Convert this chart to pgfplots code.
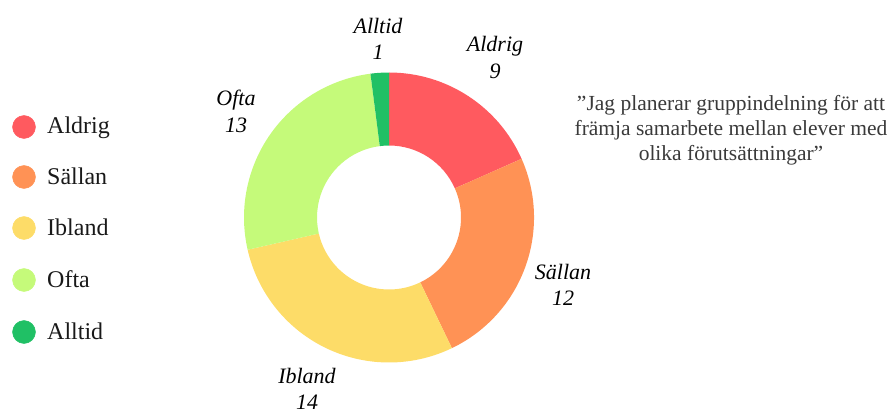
\documentclass[border=0pt]{standalone}
\usepackage{fontspec}
\setmainfont{Liberation Serif}
\usepackage{pgfplots}
\pgfplotsset{compat=1.18}
\usetikzlibrary{calc}
\definecolor{cAldrig}{HTML}{FF5A5F}
\definecolor{cSallan}{HTML}{FF9255}
\definecolor{cIbland}{HTML}{FDDC68}
\definecolor{cOfta}{HTML}{C5FA7A}
\definecolor{cAlltid}{HTML}{20C065}
\definecolor{titlegray}{HTML}{3A3A3A}

% answer counts
\def\nAldrig{9}\def\nSallan{12}\def\nIbland{14}\def\nOfta{13}\def\nAlltid{1}
\pgfmathsetmacro\total{\nAldrig+\nSallan+\nIbland+\nOfta+\nAlltid}
\pgfmathsetmacro\aA{90}
\pgfmathsetmacro\aB{\aA-360*\nAldrig/\total}
\pgfmathsetmacro\aC{\aB-360*\nSallan/\total}
\pgfmathsetmacro\aD{\aC-360*\nIbland/\total}
\pgfmathsetmacro\aE{\aD-360*\nOfta/\total}
\pgfmathsetmacro\aF{\aE-360*\nAlltid/\total}
\def\Rout{145}\def\Rin{72}

% ring segment: start angle, end angle, colour
\newcommand\slice[3]{%
  \fill[#3] ($(O)+(#1:\Rout pt)$) arc[start angle=#1,end angle=#2,radius=\Rout pt]
    -- ($(O)+(#2:\Rin pt)$) arc[start angle=#2,end angle=#1,radius=\Rin pt] -- cycle;}

\begin{document}
\begin{tikzpicture}
\begin{axis}[
  width=889pt, height=413pt, scale only axis,
  xmin=0, xmax=889, ymin=0, ymax=413,
  hide axis, clip=false,
]
\path (axis cs:0,0) rectangle (axis cs:889,413);
\coordinate (O) at (axis cs:389,195.5);
\slice{\aA}{\aB}{cAldrig}
\slice{\aB}{\aC}{cSallan}
\slice{\aC}{\aD}{cIbland}
\slice{\aD}{\aE}{cOfta}
\slice{\aE}{\aF}{cAlltid}

% legend markers
\addplot[only marks, mark=*, mark size=11.5pt, color=cAldrig] coordinates {(24,286)};
\addplot[only marks, mark=*, mark size=11.5pt, color=cSallan] coordinates {(24,236)};
\addplot[only marks, mark=*, mark size=11.5pt, color=cIbland] coordinates {(24,185)};
\addplot[only marks, mark=*, mark size=11.5pt, color=cOfta] coordinates {(24,133)};
\addplot[only marks, mark=*, mark size=11.5pt, color=cAlltid] coordinates {(24,81)};

\begin{scope}[every node/.style={anchor=base west, font=\fontsize{24}{28}\selectfont, text=black!90, inner sep=0pt}]
\node at (axis cs:47,279) {Aldrig};
\node at (axis cs:47,229) {Sällan};
\node at (axis cs:47,178) {Ibland};
\node at (axis cs:47,126) {Ofta};
\node at (axis cs:47,74) {Alltid};
\end{scope}

% slice labels
\begin{scope}[every node/.style={align=center, font=\fontsize{22}{26.5}\selectfont\itshape, inner sep=0pt}]
\node at (axis cs:378,374) {Alltid\\\nAlltid};
\node at (axis cs:495,355.5) {Aldrig\\\nAldrig};
\node at (axis cs:236,301.5) {Ofta\\\nOfta};
\node at (axis cs:563,128) {Sällan\\\nSallan};
\node at (axis cs:307,24) {Ibland\\\nIbland};
\end{scope}

\node[align=center, text=titlegray, font=\fontsize{21.5}{25}\selectfont, inner sep=0pt]
  at (axis cs:731,283) {”Jag planerar gruppindelning för att\\främja samarbete mellan elever med\\olika förutsättningar”};
\end{axis}
\end{tikzpicture}
\end{document}
